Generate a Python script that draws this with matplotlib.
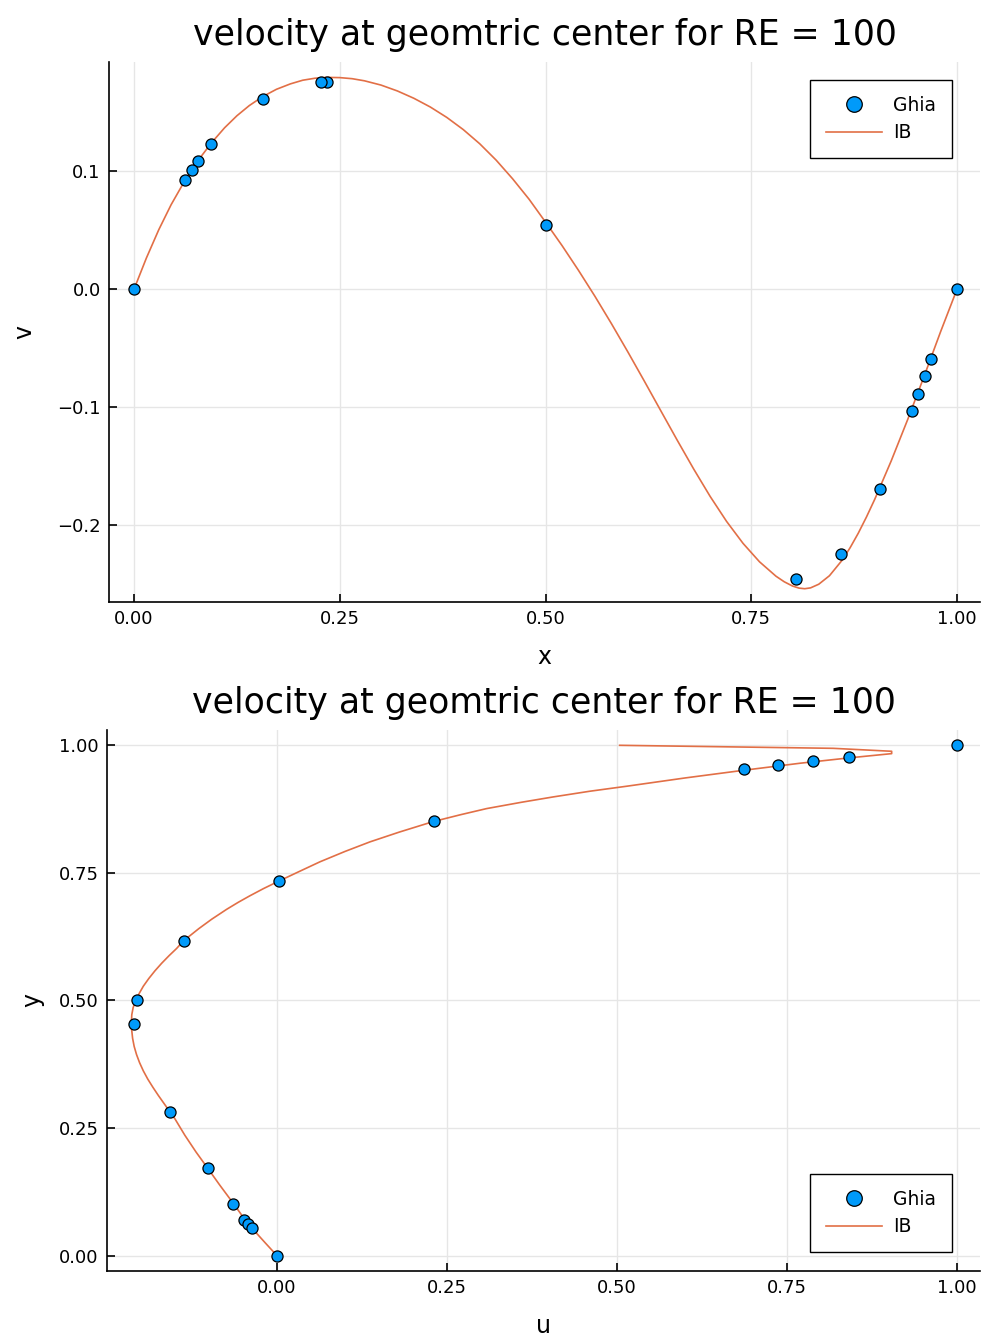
import matplotlib
matplotlib.use("Agg")
import matplotlib.pyplot as plt

# Ghia et al. (1982), Re = 100
ghia_x = [1.0000, 0.9688, 0.9609, 0.9531, 0.9453, 0.9063, 0.8594, 0.8047, 0.5000,
          0.2344, 0.2266, 0.1563, 0.0938, 0.0781, 0.0703, 0.0625, 0.0000]
ghia_v = [0.0, -0.05906, -0.07391, -0.08864, -0.10313, -0.16914, -0.22445, -0.24533,
          0.05454, 0.17527, 0.17507, 0.16077, 0.12317, 0.10890, 0.10091, 0.09233, 0.0]
ghia_y = [1.0000, 0.9766, 0.9688, 0.9609, 0.9531, 0.8516, 0.7344, 0.6172, 0.5000,
          0.4531, 0.2813, 0.1719, 0.1016, 0.0703, 0.0625, 0.0547, 0.0000]
ghia_u = [1.0, 0.84123, 0.78871, 0.73722, 0.68717, 0.23151, 0.00332, -0.13641, -0.20581,
          -0.21090, -0.15662, -0.10150, -0.06434, -0.04775, -0.04192, -0.03717, 0.0]

# IB result
ib_x = [0.000, 0.015, 0.030, 0.045, 0.0625, 0.078, 0.094, 0.110, 0.125, 0.140,
        0.156, 0.173, 0.190, 0.205, 0.220, 0.235, 0.250, 0.265, 0.280, 0.300,
        0.320, 0.340, 0.360, 0.380, 0.400, 0.420, 0.440, 0.460, 0.480, 0.500,
        0.520, 0.540, 0.560, 0.580, 0.600, 0.620, 0.640, 0.660, 0.680, 0.700,
        0.720, 0.740, 0.760, 0.780, 0.790, 0.800, 0.808, 0.815, 0.822, 0.832,
        0.845, 0.860, 0.870, 0.880, 0.890, 0.900, 0.920, 0.940, 0.960, 0.980,
        1.000]
ib_v = [0.0000, 0.0264, 0.0503, 0.0715, 0.0929, 0.1092, 0.1239, 0.1367, 0.1469, 0.1555,
        0.1630, 0.1693, 0.1739, 0.1770, 0.1787, 0.1794, 0.1792, 0.1783, 0.1765, 0.1729,
        0.1679, 0.1617, 0.1543, 0.1455, 0.1352, 0.1232, 0.1093, 0.0935, 0.0762, 0.0568,
        0.0370, 0.0160, -0.0060, -0.0291, -0.0531, -0.0778, -0.1029, -0.1279, -0.1523, -0.1755,
        -0.1967, -0.2153, -0.2309, -0.2431, -0.2478, -0.2514, -0.2532, -0.2537, -0.2530, -0.2499,
        -0.2427, -0.2299, -0.2191, -0.2067, -0.1929, -0.1780, -0.1455, -0.1105, -0.0738, -0.0361,
        0.0000]

ib_u = [0.0000, -0.0172, -0.0348, -0.0500, -0.0645, -0.0840, -0.1022, -0.1190, -0.1355, -0.1500,
        -0.1575, -0.1660, -0.1745, -0.1825, -0.1900, -0.1965, -0.2020, -0.2065, -0.2100, -0.2123,
        -0.2136, -0.2140, -0.2135, -0.2115, -0.2075, -0.2025, -0.1965, -0.1885, -0.1795, -0.1695,
        -0.1585, -0.1475, -0.1377, -0.1150, -0.0960, -0.0740, -0.0570, -0.0400, -0.0200, 0.0020,
        0.0300, 0.0632, 0.1000, 0.1368, 0.1800, 0.2299, 0.2700, 0.3083, 0.3600, 0.4064,
        0.4600, 0.5142, 0.6000, 0.6858, 0.7700, 0.8402, 0.9040, 0.9040, 0.8180, 0.5040]
ib_y = [0.000, 0.025, 0.051, 0.076, 0.103, 0.138, 0.172, 0.203, 0.236, 0.268,
        0.282, 0.298, 0.314, 0.330, 0.346, 0.362, 0.378, 0.394, 0.410, 0.426,
        0.442, 0.458, 0.472, 0.486, 0.500, 0.514, 0.528, 0.543, 0.558, 0.573,
        0.588, 0.602, 0.6166, 0.6407, 0.6592, 0.6786, 0.6923, 0.705, 0.7191, 0.7334,
        0.751, 0.7717, 0.792, 0.8108, 0.830, 0.8506, 0.864, 0.876, 0.8885, 0.8989,
        0.910, 0.9198, 0.936, 0.951, 0.965, 0.9752, 0.9837, 0.9883, 0.9941, 1.000]

BLUE = "#009AFA"
ORANGE = "#E26F46"
title = "velocity at geomtric center for RE = 100"
ticks = [0, 0.25, 0.5, 0.75, 1.0]
ticklabels = ["0.00", "0.25", "0.50", "0.75", "1.00"]

fig = plt.figure(figsize=(9.84, 13.37), dpi=100)
ax1 = fig.add_axes([0.1108, 0.5497, 0.8852, 0.4039])
ax2 = fig.add_axes([0.1087, 0.0494, 0.8873, 0.4046])


def style(ax):
    for s in ["top", "right"]:
        ax.spines[s].set_visible(False)
    for s in ["left", "bottom"]:
        ax.spines[s].set_linewidth(1.2)
    ax.grid(True, color="#e6e6e6", linewidth=1.0)
    ax.set_axisbelow(True)
    ax.tick_params(direction="in", length=6, width=1.2, labelsize=13, pad=6)


def add_legend(ax, loc, anchor):
    h, l = ax.get_legend_handles_labels()
    leg = ax.legend(h[::-1], l[::-1], loc=loc, bbox_to_anchor=anchor,
                    fontsize=13.5, fancybox=False, edgecolor="black", framealpha=1,
                    borderpad=0.85, handlelength=3.0, handletextpad=0.6,
                    labelspacing=0.45, markerscale=1.4, borderaxespad=0)
    leg.get_frame().set_linewidth(1.0)


ax1.plot(ib_x, ib_v, color=ORANGE, lw=1.2, label="IB", zorder=2)
ax1.plot(ghia_x, ghia_v, "o", ms=8, mfc=BLUE, mec="black", mew=0.9, label="Ghia", zorder=3)
ax1.set_xlim(-0.0304, 1.028)
ax1.set_ylim(-0.265, 0.1924)
ax1.set_xticks(ticks)
ax1.set_xticklabels(ticklabels)
ax1.set_yticks([-0.2, -0.1, 0.0, 0.1])
ax1.set_yticklabels(["\u22120.2", "\u22120.1", "0.0", "0.1"])
ax1.set_xlabel("x", fontsize=17, labelpad=12)
ax1.set_ylabel("v", fontsize=17, labelpad=15)
ax1.set_title(title, fontsize=25, pad=12)
style(ax1)
add_legend(ax1, "upper right", (0.968, 0.967))

ax2.plot(ib_u, ib_y, color=ORANGE, lw=1.2, label="IB", zorder=2)
ax2.plot(ghia_u, ghia_y, "o", ms=8, mfc=BLUE, mec="black", mew=0.9, label="Ghia", zorder=3)
ax2.set_xlim(-0.25, 1.034)
ax2.set_ylim(-0.03, 1.03)
ax2.set_xticks(ticks)
ax2.set_xticklabels(ticklabels)
ax2.set_yticks(ticks)
ax2.set_yticklabels(ticklabels)
ax2.set_xlabel("u", fontsize=17, labelpad=12)
ax2.set_ylabel("y", fontsize=17, labelpad=10)
ax2.set_title(title, fontsize=25, pad=12)
style(ax2)
add_legend(ax2, "lower right", (0.968, 0.035))

fig.savefig("out.png", dpi=100)
